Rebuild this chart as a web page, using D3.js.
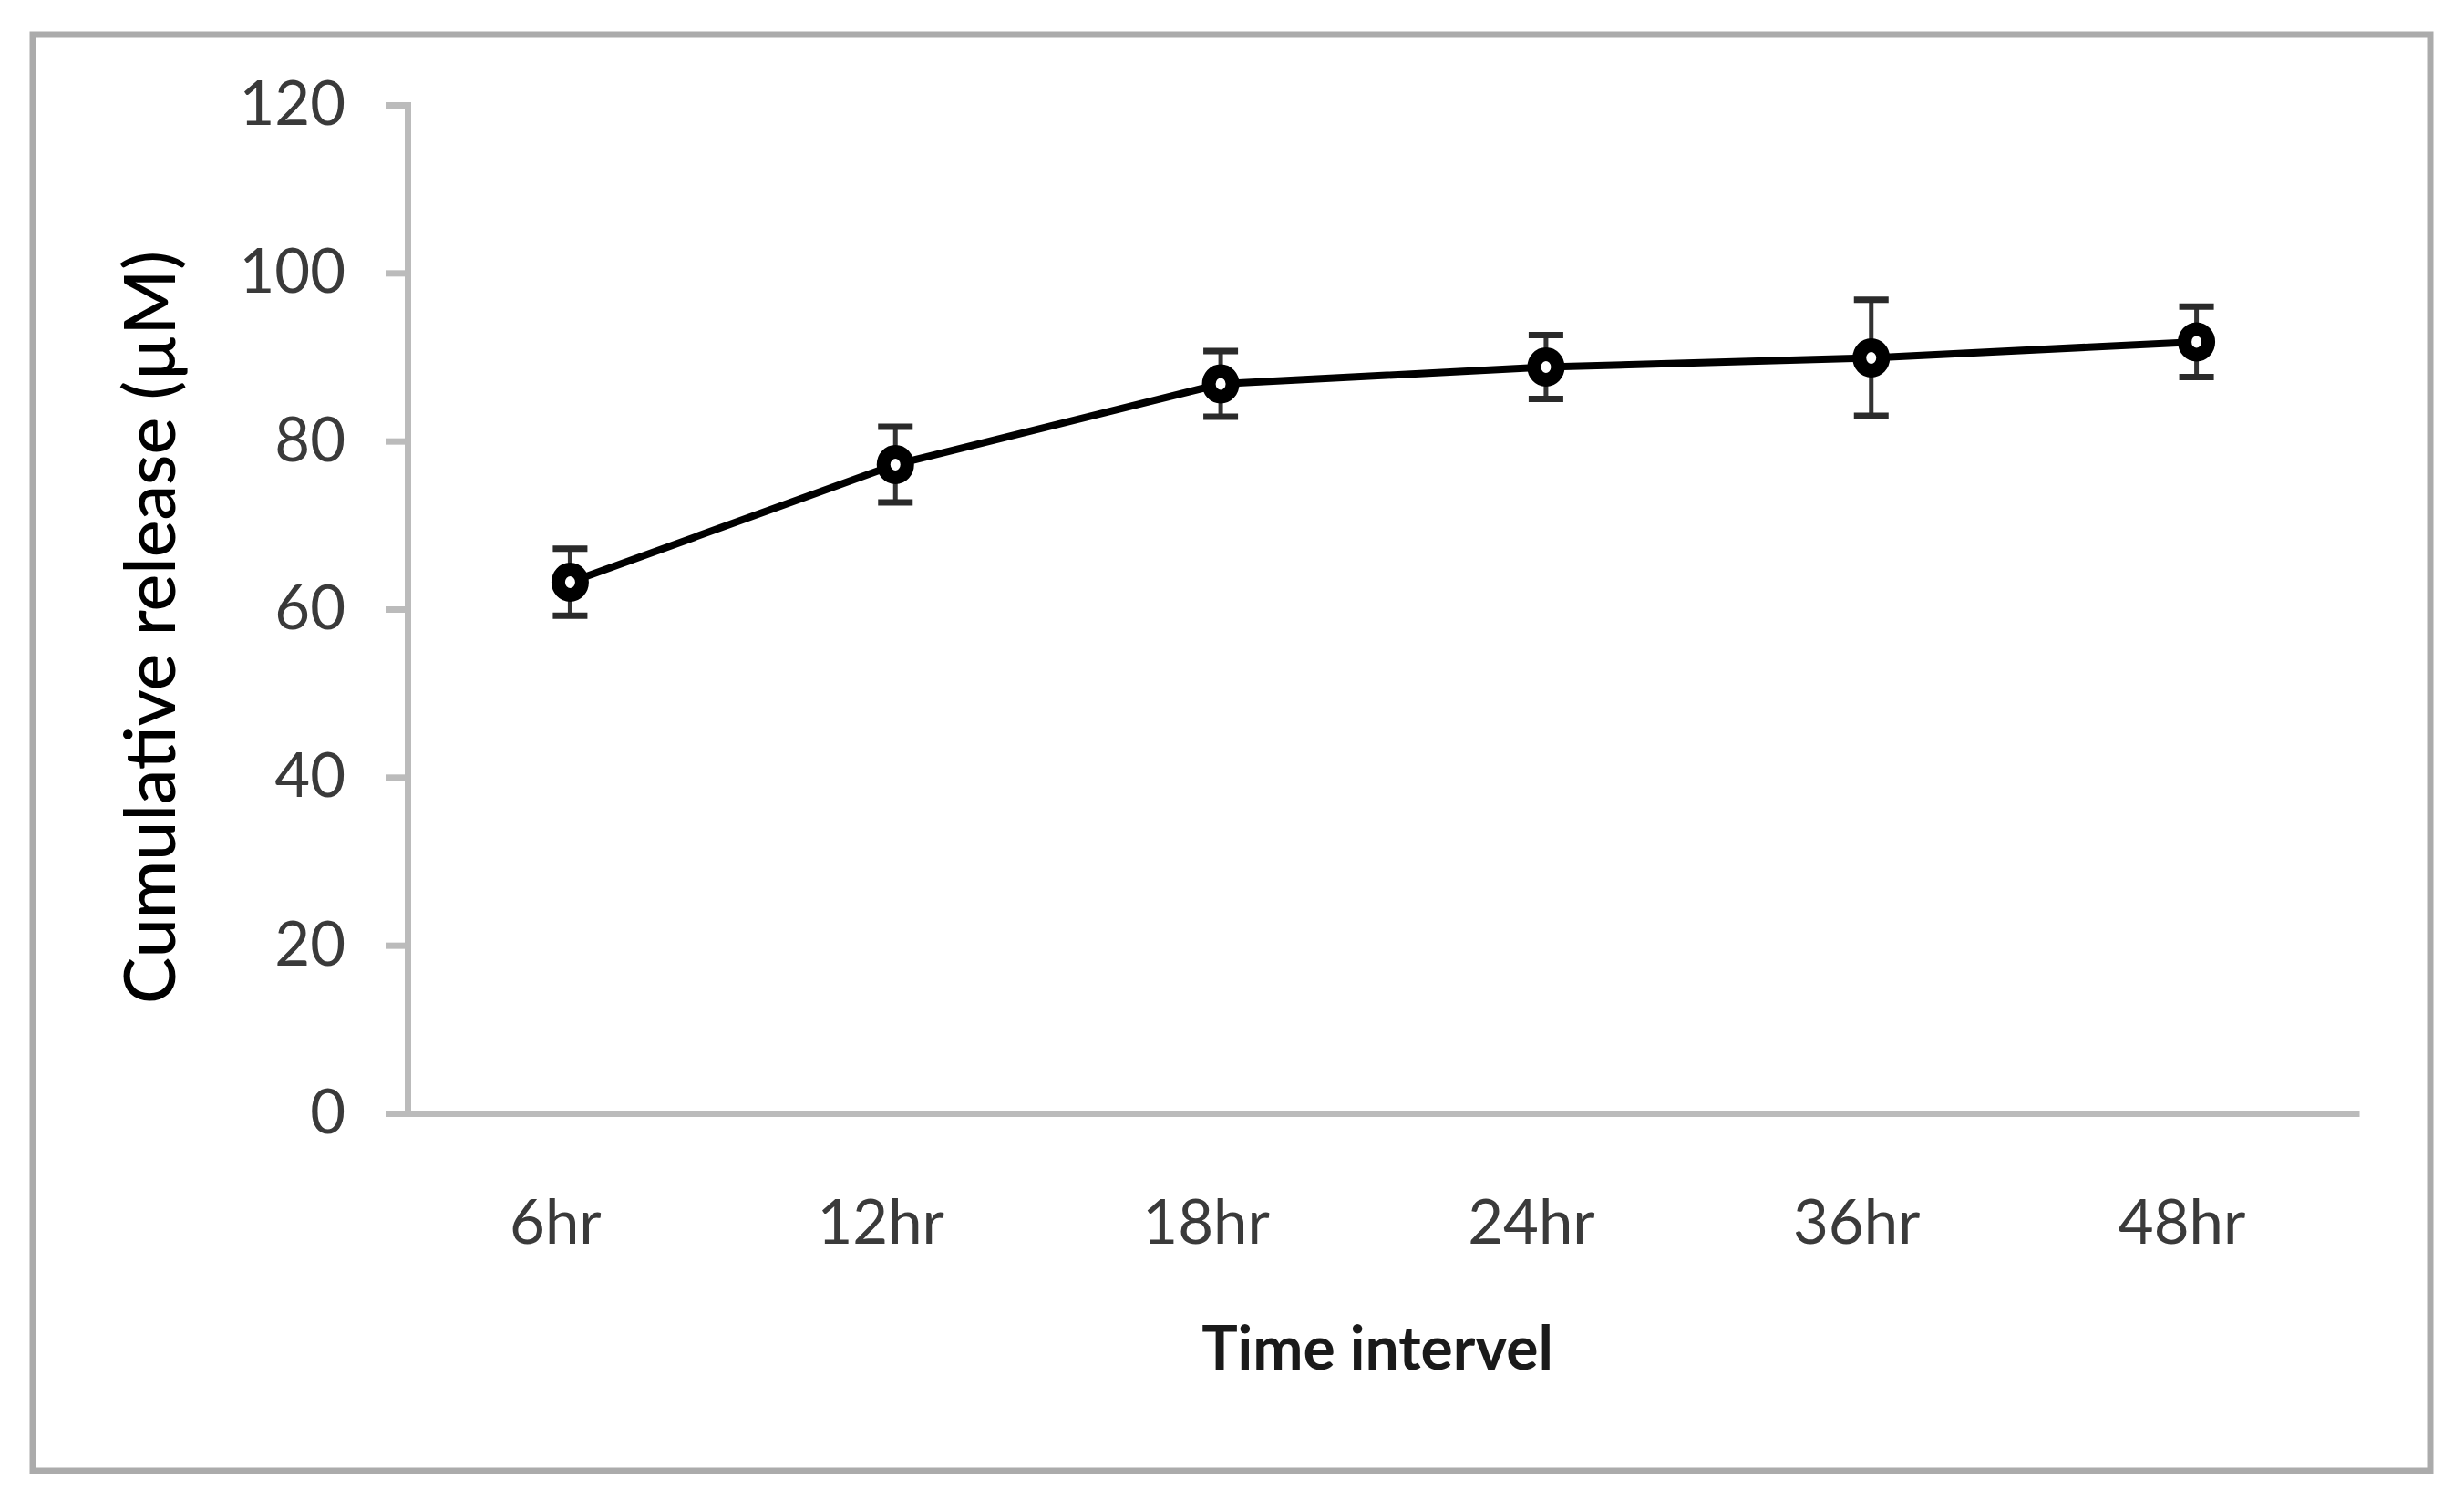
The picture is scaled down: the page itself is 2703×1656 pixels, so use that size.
<!DOCTYPE html>
<html>
<head>
<meta charset="utf-8">
<script src="https://cdn.jsdelivr.net/npm/d3@7"></script>
<style>
html,body{margin:0;padding:0;background:#fff;}
svg{display:block;}
</style>
</head>
<body>
<svg id="chart" width="2703" height="1656"></svg>
<script>
const categories = ["6hr", "12hr", "18hr", "24hr", "36hr", "48hr"];
const values = [63.2, 77.2, 86.8, 88.8, 89.9, 91.8];
const errors = [4.0, 4.5, 3.9, 3.8, 6.9, 4.2];
const yTicks = [0, 20, 40, 60, 80, 100, 120];
const xTitle = "Time intervel";
const yTitle = "Cumulative release (µM)";

(function () {
const svg = d3.select("#chart");
const W = 2703, H = 1656;
svg.append("rect").attr("width", W).attr("height", H).attr("fill", "#fff");

// outer frame
svg.append("rect")
  .attr("x", 36).attr("y", 38).attr("width", 2630).attr("height", 1575)
  .attr("fill", "none").attr("stroke", "#ababab").attr("stroke-width", 7);

const pLeft = 447, pRight = 2588, pTop = 115, pBottom = 1221;
const x = d3.scaleBand().domain(categories).range([pLeft, pRight]).padding(0);
const y = d3.scaleLinear().domain([0, 120]).range([pBottom, pTop]);

const axisColor = "#bbbbbb";
const font = "Lato, 'Open Sans', sans-serif";

// y axis
const yAxis = svg.append("g").attr("transform", `translate(${pLeft},0)`)
  .call(d3.axisLeft(y).tickValues(yTicks).tickSize(24).tickSizeOuter(24).tickPadding(44).tickFormat(d3.format("d")));
yAxis.select(".domain").attr("stroke", axisColor).attr("stroke-width", 7);
yAxis.selectAll(".tick line").attr("stroke", axisColor).attr("stroke-width", 7);
yAxis.selectAll(".tick text").attr("fill", "#3a3a3a").style("font-family", font).style("font-size", "67px");

// x axis
const xAxis = svg.append("g").attr("transform", `translate(0,${pBottom})`)
  .call(d3.axisBottom(x).tickSize(0).tickSizeOuter(0).tickPadding(95));
xAxis.select(".domain").attr("stroke", axisColor).attr("stroke-width", 7);
xAxis.selectAll(".tick text").attr("fill", "#3a3a3a").attr("dx", -16)
  .style("font-family", font).style("font-size", "67px");

// line
const cx = d => x(d) + x.bandwidth() / 2;
const pts = categories.map((c, i) => ({c, v: values[i], e: errors[i]}));
svg.append("path").datum(pts)
  .attr("d", d3.line().x(d => cx(d.c)).y(d => y(d.v)))
  .attr("fill", "none").attr("stroke", "#000").attr("stroke-width", 8).attr("stroke-linejoin", "round");

// error bars
const eb = svg.append("g");
eb.selectAll("line.v").data(pts).join("line").attr("class", "v")
  .attr("x1", d => cx(d.c)).attr("x2", d => cx(d.c))
  .attr("y1", d => y(d.v + d.e)).attr("y2", d => y(d.v - d.e))
  .attr("stroke", "#333").attr("stroke-width", 5);
eb.selectAll("line.ct").data(pts).join("line").attr("class", "ct")
  .attr("x1", d => cx(d.c) - 19).attr("x2", d => cx(d.c) + 19)
  .attr("y1", d => y(d.v + d.e)).attr("y2", d => y(d.v + d.e))
  .attr("stroke", "#2a2a2a").attr("stroke-width", 7);
eb.selectAll("line.cb").data(pts).join("line").attr("class", "cb")
  .attr("x1", d => cx(d.c) - 19).attr("x2", d => cx(d.c) + 19)
  .attr("y1", d => y(d.v - d.e)).attr("y2", d => y(d.v - d.e))
  .attr("stroke", "#2a2a2a").attr("stroke-width", 7);

// markers
svg.append("g").selectAll("ellipse").data(pts).join("ellipse")
  .attr("cx", d => cx(d.c)).attr("cy", d => y(d.v))
  .attr("rx", 13).attr("ry", 14)
  .attr("fill", "#fff").attr("stroke", "#000").attr("stroke-width", 15);

// titles
svg.append("text").attr("x", 1511).attr("y", 1502).attr("text-anchor", "middle")
  .style("font-family", font).style("font-size", "66px").style("font-weight", "bold")
  .attr("fill", "#1a1a1a").text(xTitle);

svg.append("text").attr("transform", "translate(192,688) rotate(-90)").attr("text-anchor", "middle")
  .style("font-family", font).style("font-size", "77px").style("font-weight", "500")
  .attr("fill", "#000").text(yTitle);
})();
</script>
</body>
</html>
